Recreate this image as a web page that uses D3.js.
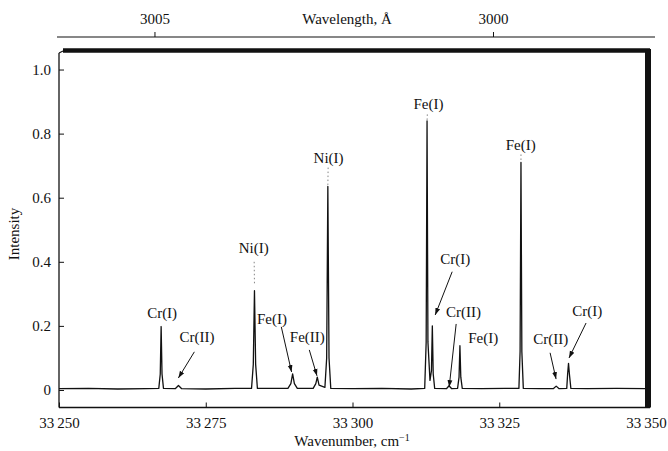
<!DOCTYPE html>
<html>
<head>
<meta charset="utf-8">
<script src="https://cdn.jsdelivr.net/npm/d3@7"></script>
<style>
  html, body { margin: 0; padding: 0; background: #fff; }
  svg { display: block; }
  text { font-family: "Liberation Serif", "DejaVu Serif", serif; fill: #111; }
</style>
</head>
<body>
<svg id="chart" width="668" height="451"></svg>
<script>
// ---------------- DATA ----------------
const wavenumber = [
  33250.0, 33255.0, 33260.0, 33265.0,
  33267.0, 33267.25, 33267.4, 33267.55, 33267.8,
  33269.8, 33270.35, 33270.9,
  33275.0, 33280.0,
  33282.8, 33283.1, 33283.3, 33283.5, 33283.8,
  33289.0, 33289.5, 33289.8, 33290.1, 33290.6,
  33293.3, 33293.75, 33294.0, 33294.3,
  33295.3, 33295.6, 33295.8, 33296.0, 33296.3,
  33300.0, 33305.0, 33310.0,
  33312.3, 33312.55, 33312.7, 33312.85, 33313.2,
  33313.45, 33313.6, 33313.75, 33314.0,
  33316.0, 33316.45, 33316.9,
  33317.9, 33318.15, 33318.3, 33318.45, 33318.7,
  33322.0, 33326.0,
  33328.35, 33328.55, 33328.7, 33328.85, 33329.1,
  33332.0, 33334.2, 33334.7, 33335.2,
  33336.5, 33336.65, 33336.8, 33336.95, 33337.2,
  33340.0, 33345.0, 33350.0
];
const intensity = [
  0.004, 0.005, 0.003, 0.004,
  0.005, 0.05, 0.198, 0.05, 0.005,
  0.004, 0.014, 0.004,
  0.003, 0.005,
  0.005, 0.08, 0.31, 0.08, 0.005,
  0.005, 0.02, 0.05, 0.02, 0.005,
  0.005, 0.02, 0.04, 0.015,
  0.008, 0.1, 0.635, 0.1, 0.005,
  0.004, 0.005, 0.003,
  0.005, 0.15, 0.84, 0.15, 0.03,
  0.06, 0.2, 0.05, 0.005,
  0.004, 0.013, 0.004,
  0.005, 0.04, 0.138, 0.04, 0.005,
  0.004, 0.005,
  0.005, 0.12, 0.71, 0.12, 0.005,
  0.004, 0.004, 0.012, 0.004,
  0.005, 0.05, 0.083, 0.05, 0.005,
  0.004, 0.005, 0.004
];

// Bottom / left / top ticks
const wavenumberTicks = [33250, 33275, 33300, 33325, 33350];
const intensityTicks = [0, 0.2, 0.4, 0.6, 0.8, 1.0];
const intensityTickLabels = ["0", "0.2", "0.4", "0.6", "0.8", "1.0"];
const wavelengthTicks = [3005, 3000];

// Line annotations (in data units: wavenumber, intensity)
const annLabels  = ["Cr(I)", "Cr(II)", "Ni(I)", "Fe(I)", "Fe(II)", "Ni(I)", "Fe(I)", "Cr(I)", "Cr(II)", "Fe(I)", "Fe(I)", "Cr(II)", "Cr(I)"];
const annLabelX  = [33267.57, 33273.52, 33283.16, 33286.29, 33292.3, 33295.92, 33312.94, 33317.49, 33318.9, 33322.26, 33328.67, 33333.78, 33340.01];
const annLabelY  = [0.241, 0.166, 0.443, 0.221, 0.166, 0.724, 0.891, 0.408, 0.242, 0.162, 0.766, 0.158, 0.248];
// leader type: "arrow", "dot" or "none"
const annKind    = ["none", "arrow", "dot", "arrow", "arrow", "dot", "dot", "arrow", "arrow", "none", "dot", "arrow", "arrow"];
const annFromX   = [null, 33273.06, 33283.25, 33287.87, 33292.64, 33295.85, 33312.75, 33316.98, 33317.66, null, 33328.7, 33333.66, 33339.79];
const annFromY   = [null, 0.119, 0.40, 0.197, 0.125, 0.694, 0.86, 0.369, 0.206, null, 0.735, 0.116, 0.209];
const annToX     = [null, 33270.34, 33283.3, 33289.62, 33293.95, 33295.8, 33312.7, 33314.09, 33316.47, null, 33328.7, 33334.68, 33336.89];
const annToY     = [null, 0.0375, 0.33, 0.056, 0.044, 0.64, 0.84, 0.234, 0.009, null, 0.71, 0.034, 0.1];

// ---------------- LAYOUT ----------------
const svg = d3.select("#chart");
const L = 59, R = 646, T = 53, B = 407.5;

const x = d3.scaleLinear().domain([33250, 33350]).range([L, R]);
const y = d3.scaleLinear().domain([-0.0547, 1.0516]).range([B, T]);
const xTop = d3.scaleLinear().domain([3006.41, 2997.74]).range([L, R]);

// Frame
svg.append("line").attr("x1", L).attr("x2", L).attr("y1", T).attr("y2", B)
  .attr("stroke", "#111").attr("stroke-width", 1.3);
svg.append("line").attr("x1", L).attr("x2", R + 4).attr("y1", B).attr("y2", B)
  .attr("stroke", "#111").attr("stroke-width", 1.3);
svg.append("line").attr("x1", L).attr("x2", L + 4).attr("y1", T).attr("y2", T - 2)
  .attr("stroke", "#111").attr("stroke-width", 1.2);
svg.append("line").attr("x1", L + 4).attr("x2", R + 4).attr("y1", T - 2.5).attr("y2", T - 2.5)
  .attr("stroke", "#111").attr("stroke-width", 4.5);
svg.append("line").attr("x1", R + 2).attr("x2", R + 2).attr("y1", T - 4).attr("y2", B)
  .attr("stroke", "#111").attr("stroke-width", 6);

// Left axis
const fmtY = d => intensityTickLabels[intensityTicks.indexOf(d)];
const gy = svg.append("g").attr("transform", `translate(${L},0)`)
  .call(d3.axisLeft(y).tickValues(intensityTicks).tickFormat(fmtY).tickSize(-5).tickPadding(8));
gy.select(".domain").remove();
gy.selectAll("line").attr("stroke", "#111").attr("stroke-width", 1);
gy.selectAll("text").attr("font-size", 15).attr("font-family", "Liberation Serif").attr("fill", "#111");

// Bottom axis
const fmtX = d => { const s = String(d); return s.slice(0, 2) + "\u2009" + s.slice(2); };
const gx = svg.append("g").attr("transform", `translate(0,${B})`)
  .call(d3.axisBottom(x).tickValues(wavenumberTicks).tickFormat(fmtX).tickSize(-5).tickPadding(10));
gx.select(".domain").remove();
gx.selectAll("line").attr("stroke", "#111").attr("stroke-width", 1);
gx.selectAll("text").attr("font-size", 15).attr("font-family", "Liberation Serif").attr("fill", "#111");

// Top (wavelength) axis
const topY = 37;
svg.append("line").attr("x1", 57).attr("x2", 655).attr("y1", topY).attr("y2", topY)
  .attr("stroke", "#111").attr("stroke-width", 1.2);
const gt = svg.append("g").attr("transform", `translate(0,${topY})`)
  .call(d3.axisTop(xTop).tickValues(wavelengthTicks).tickFormat(d3.format("d")).tickSize(5).tickPadding(8));
gt.select(".domain").remove();
gt.selectAll("line").attr("stroke", "#111").attr("stroke-width", 1);
gt.selectAll("text").attr("font-size", 15).attr("font-family", "Liberation Serif").attr("fill", "#111");

// Axis titles
svg.append("text").attr("x", 347).attr("y", 24).attr("text-anchor", "middle")
  .attr("font-size", 15).text("Wavelength, Å");
const xt = svg.append("text").attr("x", 352).attr("y", 446).attr("text-anchor", "middle")
  .attr("font-size", 15);
xt.append("tspan").text("Wavenumber, cm");
xt.append("tspan").attr("dy", -5).attr("font-size", 10).text("−1");
svg.append("text").attr("transform", "translate(19,234) rotate(-90)").attr("text-anchor", "middle")
  .attr("font-size", 15).text("Intensity");

// Spectrum
const pts = wavenumber.map((w, i) => [w, intensity[i]]);
svg.append("path").datum(pts)
  .attr("d", d3.line().x(d => x(d[0])).y(d => y(d[1])))
  .attr("fill", "none").attr("stroke", "#111").attr("stroke-width", 1.3)
  .attr("stroke-linejoin", "round");

// Arrowhead marker
svg.append("defs").append("marker").attr("id", "ah")
  .attr("viewBox", "0 0 10 10").attr("refX", 10).attr("refY", 5)
  .attr("markerWidth", 7).attr("markerHeight", 7).attr("markerUnits", "userSpaceOnUse")
  .attr("orient", "auto")
  .append("path").attr("d", "M0,1.5 L10,5 L0,8.5 Z").attr("fill", "#111");

// Annotations
annLabels.forEach((lab, i) => {
  svg.append("text").attr("x", x(annLabelX[i])).attr("y", y(annLabelY[i]))
    .attr("text-anchor", "middle").attr("dominant-baseline", "central")
    .attr("font-size", 15).text(lab);
  if (annKind[i] === "arrow") {
    svg.append("line")
      .attr("x1", x(annFromX[i])).attr("y1", y(annFromY[i]))
      .attr("x2", x(annToX[i])).attr("y2", y(annToY[i]))
      .attr("stroke", "#111").attr("stroke-width", 1)
      .attr("marker-end", "url(#ah)");
  } else if (annKind[i] === "dot") {
    svg.append("line")
      .attr("x1", x(annFromX[i])).attr("y1", y(annFromY[i]))
      .attr("x2", x(annToX[i])).attr("y2", y(annToY[i]))
      .attr("stroke", "#666").attr("stroke-width", 0.8)
      .attr("stroke-dasharray", "1.5,2.5");
  }
});
</script>
</body>
</html>
